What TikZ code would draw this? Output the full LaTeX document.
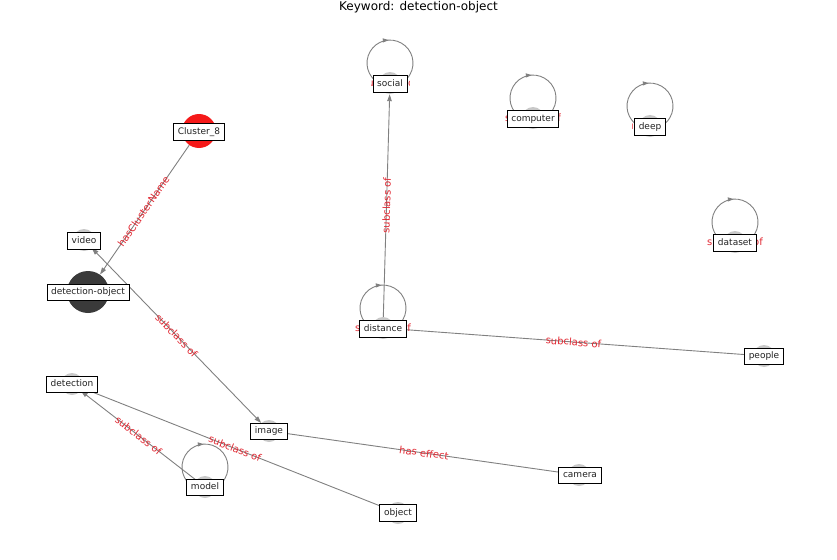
\documentclass[tikz,border=0pt]{standalone}
\usepackage{fontspec}
\setmainfont{DejaVu Sans}
\usetikzlibrary{arrows.meta,decorations.markings}
\pgfdeclarelayer{edges}
\pgfdeclarelayer{boxes}
\pgfsetlayers{edges,main,boxes}
\definecolor{edgegray}{RGB}{128,128,128}
\definecolor{nodegray}{RGB}{200,200,200}
\definecolor{hubdark}{RGB}{58,58,58}
\definecolor{clusterred}{RGB}{245,25,25}
\definecolor{relred}{RGB}{225,40,50}
\definecolor{boxtext}{RGB}{34,34,34}

\tikzset{
  dot/.style={circle,fill=nodegray,minimum size=22pt,inner sep=0pt},
  hubdot/.style={circle,fill=hubdark,minimum size=42pt,inner sep=0pt},
  clusterdot/.style={circle,fill=clusterred,minimum size=34pt,inner sep=0pt},
  namebox/.style={draw=black,line width=0.9pt,fill=white,text=boxtext,
    font=\fontsize{9}{10}\selectfont,inner xsep=4.2pt,inner ysep=4pt,
    text height=6.8pt,text depth=1.9pt},
  rel/.style={draw=edgegray,line width=0.9pt},
  tip/.style={-{Triangle[length=7pt,width=4.5pt]}},
  bothtips/.style={{Triangle[length=7pt,width=4.5pt]}-{Triangle[length=7pt,width=4.5pt]}},
  rellabel/.style={text=relred,font=\fontsize{10}{12}\selectfont,inner sep=0pt,sloped},
  looplabel/.style={text=relred,font=\fontsize{10}{12}\selectfont,inner sep=0pt},
  selfloop/.style={color=edgegray,line width=0.9pt,
    decoration={markings,mark=at position 0.49 with {\arrow{Triangle[length=6pt,width=4pt]}}},
    postaction=decorate}
}

\begin{document}
\begin{tikzpicture}[x=1pt,y=-1pt]
\useasboundingbox (0,0) rectangle (837,559);

% title
\node[anchor=base,font=\fontsize{12}{14}\selectfont] (title) at (418.5,10.5) {Keyword: detection-object};

% node markers
\node[dot] (dsocial) at (390,83) {};
\node[dot] (dcomputer) at (533,118) {};
\node[dot] (ddeep) at (650,126) {};
\node[dot] (ddataset) at (735,242) {};
\node[clusterdot] (dcluster) at (199,131) {};
\node[dot] (dvideo) at (84,240) {};
\node[hubdot] (ddetobj) at (88,292) {};
\node[dot] (ddistance) at (383,328) {};
\node[dot] (dpeople) at (764,356) {};
\node[dot] (ddetection) at (72,384) {};
\node[dot] (dimage) at (269,431) {};
\node[dot] (dmodel) at (205,487) {};
\node[dot] (dcamera) at (579,475) {};
\node[dot] (dobject) at (398,513) {};

% relations
\begin{pgfonlayer}{edges}
  \draw[rel,tip] (dcluster) -- (ddetobj);
  \draw[rel,bothtips] (dvideo) -- (dimage);
  \draw[rel,tip] (ddistance) -- (dsocial);
  \draw[rel] (ddistance) -- (dpeople);
  \draw[rel,tip] (dmodel) -- (ddetection);
  \draw[rel] (dobject) -- (ddetection);
  \draw[rel] (dimage) -- (dcamera);
  % self relations
  \foreach \n in {dsocial,dcomputer,ddeep,ddataset,ddistance,dmodel}{
    \draw[selfloop] ([shift={(-11.5,0)}]\n.center) arc[start angle=120,end angle=420,radius=23];
  }
\end{pgfonlayer}

% relation labels
\path (dcluster.center) -- node[rellabel] {hasClusterName} (ddetobj.center);
\path (dvideo.center) -- node[rellabel] {subclass of} (dimage.center);
\path (ddistance.center) -- node[rellabel] {subclass of} (dsocial.center);
\path (ddistance.center) -- node[rellabel] {subclass of} (dpeople.center);
\path (dmodel.center) -- node[rellabel] {subclass of} (ddetection.center);
\path (dobject.center) -- node[rellabel] {subclass of} (ddetection.center);
\path (dimage.center) -- node[rellabel] {has effect} (dcamera.center);
% self relation labels, mostly covered by the name boxes
\foreach \n in {dcomputer,ddataset,ddistance}{
  \node[looplabel] at (\n.center) {subclass of};
}
\begin{scope}
  \clip (371,70) rectangle (409,100);
  \node[looplabel] at (dsocial.center) {subclass of};
\end{scope}
\begin{scope}
  \clip (632,112) rectangle (665,142);
  \node[looplabel] at (ddeep.center) {subclass of};
\end{scope}

% name boxes
\begin{pgfonlayer}{boxes}
  \node[namebox] (social) at (390,84) {social};
  \node[namebox] (computer) at (533,119) {computer};
  \node[namebox] (deep) at (650,127) {deep};
  \node[namebox] (dataset) at (735,243) {dataset};
  \node[namebox] (cluster) at (199,132) {Cluster\_8};
  \node[namebox] (video) at (84,241) {video};
  \node[namebox] (detobj) at (88,292.5) {detection-object};
  \node[namebox] (distance) at (383,329) {distance};
  \node[namebox] (people) at (764,356.5) {people};
  \node[namebox] (detection) at (72,384.5) {detection};
  \node[namebox] (image) at (269,431.5) {image};
  \node[namebox] (model) at (205,487.5) {model};
  \node[namebox] (camera) at (580,475.5) {camera};
  \node[namebox] (object) at (398,513) {object};
\end{pgfonlayer}
\end{tikzpicture}
\end{document}
